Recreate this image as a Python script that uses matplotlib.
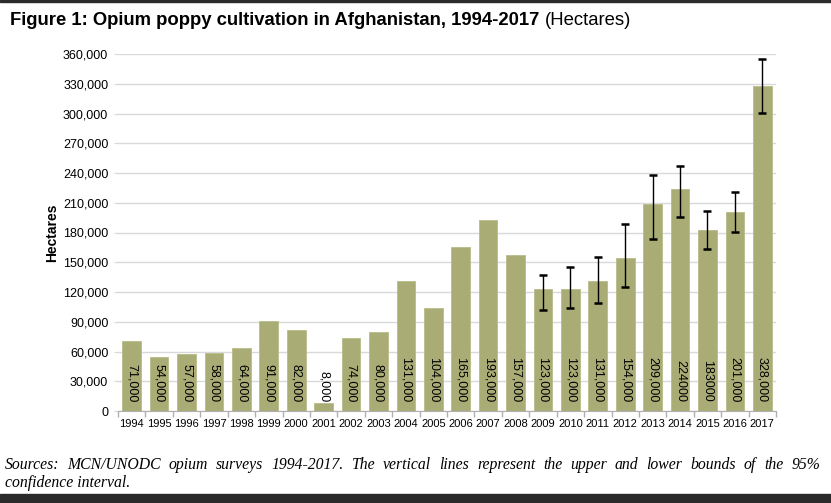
import matplotlib.pyplot as plt
from matplotlib.patches import Rectangle
import numpy as np

plt.rcParams["font.family"] = ["Liberation Sans", "DejaVu Sans"]

years = [str(y) for y in range(1994, 2018)]
hectares = [71000, 54000, 57000, 58000, 64000, 91000, 82000, 8000, 74000, 80000,
            131000, 104000, 165000, 193000, 157000, 123000, 123000, 131000,
            154000, 209000, 224000, 183000, 201000, 328000]
bar_labels = ["71,000", "54,000", "57,000", "58,000", "64,000", "91,000", "82,000",
              "8,000", "74,000", "80,000", "131,000", "104,000", "165,000",
              "193,000", "157,000", "123,000", "123,000", "131,000", "154,000",
              "209,000", "224000", "183000", "201,000", "328,000"]

# 95% confidence bounds (2009-2017)
ci_years = ["2009", "2010", "2011", "2012", "2013", "2014", "2015", "2016", "2017"]
ci_lower = [102000, 104000, 109000, 125000, 173000, 196000, 163000, 181000, 301000]
ci_upper = [137000, 145000, 155000, 189000, 238000, 247000, 202000, 221000, 355000]

yticks = list(range(0, 360001, 30000))

fig = plt.figure(figsize=(8.31, 5.03), dpi=100)
ax = fig.add_axes([118 / 831, 1 - 411 / 503, 658 / 831, 357 / 503])

x = np.arange(len(years))
ax.bar(x, hectares, width=0.68, color="#a9ac74", edgecolor="#b8bb88", linewidth=0.6, zorder=2)

ci_x = [years.index(y) for y in ci_years]
ci_mid = [hectares[i] for i in ci_x]
yerr = [np.array(ci_mid) - np.array(ci_lower), np.array(ci_upper) - np.array(ci_mid)]
ax.errorbar(ci_x, ci_mid, yerr=yerr, fmt="none", ecolor="black", elinewidth=1.0,
            capsize=3, capthick=1.8, zorder=3)

for i, lab in enumerate(bar_labels):
    ax.text(x[i], 9000, lab, rotation=270, ha="center", va="bottom", fontsize=9, zorder=4)

ax.set_xlim(-0.5, len(years) - 0.5)
ax.set_ylim(0, 360000)
ax.set_yticks(yticks)
ax.set_yticklabels([f"{v:,}" for v in yticks], fontsize=9)
ax.set_xticks(x)
ax.set_xticklabels(years, fontsize=8)
ax.set_xticks(np.arange(-0.5, len(years)), minor=True)
ax.tick_params(axis="x", which="major", length=0, pad=6)
ax.tick_params(axis="x", which="minor", length=4, color="#b0b0b0", width=1)
ax.tick_params(axis="y", length=3, color="#d9d9d9", pad=4)
ax.grid(axis="y", color="#d9d9d9", linewidth=1, zorder=0)
for s in ["top", "right", "left"]:
    ax.spines[s].set_visible(False)
ax.spines["bottom"].set_color("#b0b0b0")
ax.spines["bottom"].set_zorder(5)

ax.set_ylabel("Hectares", fontsize=10, fontweight="bold", labelpad=3)

t1 = fig.text(10 / 831, 1 - 25 / 503, "Figure 1: Opium poppy cultivation in Afghanistan, 1994-2017",
              fontsize=13.3, fontweight="bold", ha="left", va="baseline")
fig.canvas.draw()
r = fig.canvas.get_renderer()
bb = t1.get_window_extent(r)
fig.text(bb.x1 / 831 + 5 / 831, 1 - 25 / 503, "(Hectares)", fontsize=13.3, ha="left", va="baseline")

# justified source note
line1 = "Sources: MCN/UNODC opium surveys 1994-2017. The vertical lines represent the upper and lower bounds of the 95%"
line2 = "confidence interval."
src_font = dict(fontsize=11.3, style="italic", family=["Liberation Serif", "DejaVu Serif"])
words = line1.split()
left, right = 5, 820
widths = []
for w in words:
    t = fig.text(0, 0, w, **src_font)
    widths.append(t.get_window_extent(r).width)
    t.remove()
gap = (right - left - sum(widths)) / (len(words) - 1)
pos = left
for w, wd in zip(words, widths):
    fig.text(pos / 831, 1 - 469 / 503, w, ha="left", va="baseline", **src_font)
    pos += wd + gap
fig.text(left / 831, 1 - 487 / 503, line2, ha="left", va="baseline", **src_font)

fig.patches.append(Rectangle((0, 1 - 2 / 503), 1, 2 / 503, transform=fig.transFigure,
                             color="#2b2b2b", zorder=0))
fig.patches.append(Rectangle((0, 0), 1, 9 / 503, transform=fig.transFigure,
                             color="#2b2b2b", zorder=0))

fig.savefig("out.png", dpi=100)
